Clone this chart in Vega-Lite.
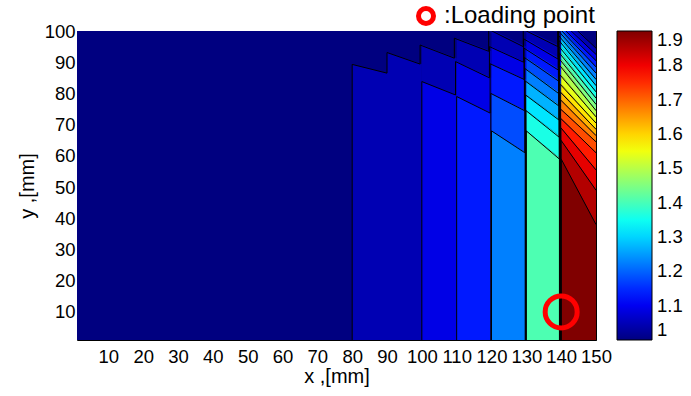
{
  "$schema": "https://vega.github.io/schema/vega-lite/v6.json",
  "width": 519,
  "height": 309,
  "autosize": "none",
  "padding": {"left": 77, "top": 31, "right": 95, "bottom": 56},
  "config": {
    "view": {"stroke": "black", "strokeWidth": 1},
    "font": "Liberation Sans",
    "axis": {
      "grid": false, "domain": false, "tickColor": "black", "labelColor": "black", "titleColor": "black",
      "labelFont": "Liberation Sans", "titleFont": "Liberation Sans", "labelFontSize": 18.5, "titleFontSize": 20,
      "titleFontWeight": "normal", "tickSize": -4, "labelPadding": 11, "labelOverlap": false, "zindex": 1
    }
  },
  "resolve": {"axis": {"x": "independent", "y": "independent"}},
  "layer": [
    {
      "data": {"values": [
        {"id": "bg", "x": 1, "top": 100, "bot": 1, "v": 1}, {"id": "bg", "x": 150, "top": 100, "bot": 1, "v": 1},
        {"id": "c80k1", "x": 80, "top": 89.3, "bot": 1, "v": 1.045}, {"id": "c80k1", "x": 90, "top": 86.5, "bot": 1, "v": 1.045},
        {"id": "c90k1", "x": 90, "top": 93.1, "bot": 1, "v": 1.045}, {"id": "c90k1", "x": 100, "top": 89.4, "bot": 1, "v": 1.045},
        {"id": "c100k1", "x": 100, "top": 95.5, "bot": 83.8, "v": 1.045}, {"id": "c100k1", "x": 110, "top": 91.3, "bot": 79.5, "v": 1.045},
        {"id": "c100k2", "x": 100, "top": 83.8, "bot": 1, "v": 1.09}, {"id": "c100k2", "x": 110, "top": 79.5, "bot": 1, "v": 1.09},
        {"id": "c110k1", "x": 110, "top": 97.7, "bot": 90.2, "v": 1.045}, {"id": "c110k1", "x": 120, "top": 93.5, "bot": 85, "v": 1.045},
        {"id": "c110k2", "x": 110, "top": 90.2, "bot": 79, "v": 1.09}, {"id": "c110k2", "x": 120, "top": 85, "bot": 73.7, "v": 1.09},
        {"id": "c110k3", "x": 110, "top": 79, "bot": 1, "v": 1.135}, {"id": "c110k3", "x": 120, "top": 73.7, "bot": 1, "v": 1.135},
        {"id": "c120k1", "x": 120, "top": 100.5, "bot": 95, "v": 1.045}, {"id": "c120k1", "x": 130, "top": 95, "bot": 90, "v": 1.045},
        {"id": "c120k2", "x": 120, "top": 95, "bot": 89.5, "v": 1.09}, {"id": "c120k2", "x": 130, "top": 90, "bot": 84.5, "v": 1.09},
        {"id": "c120k3", "x": 120, "top": 89.5, "bot": 80, "v": 1.135}, {"id": "c120k3", "x": 130, "top": 84.5, "bot": 74.5, "v": 1.135},
        {"id": "c120k4", "x": 120, "top": 80, "bot": 68, "v": 1.18}, {"id": "c120k4", "x": 130, "top": 74.5, "bot": 61, "v": 1.18},
        {"id": "c120k5", "x": 120, "top": 68, "bot": 1, "v": 1.225}, {"id": "c120k5", "x": 130, "top": 61, "bot": 1, "v": 1.225},
        {"id": "c130k1", "x": 130, "top": 100.5, "bot": 97.5, "v": 1.045}, {"id": "c130k1", "x": 140, "top": 95, "bot": 91, "v": 1.045},
        {"id": "c130k2", "x": 130, "top": 97.5, "bot": 94.5, "v": 1.09}, {"id": "c130k2", "x": 140, "top": 91, "bot": 87.5, "v": 1.09},
        {"id": "c130k3", "x": 130, "top": 94.5, "bot": 91.5, "v": 1.135}, {"id": "c130k3", "x": 140, "top": 87.5, "bot": 84, "v": 1.135},
        {"id": "c130k4", "x": 130, "top": 91.5, "bot": 88, "v": 1.18}, {"id": "c130k4", "x": 140, "top": 84, "bot": 80, "v": 1.18},
        {"id": "c130k5", "x": 130, "top": 88, "bot": 84, "v": 1.225}, {"id": "c130k5", "x": 140, "top": 80, "bot": 76, "v": 1.225},
        {"id": "c130k6", "x": 130, "top": 84, "bot": 79.5, "v": 1.27}, {"id": "c130k6", "x": 140, "top": 76, "bot": 71.5, "v": 1.27},
        {"id": "c130k7", "x": 130, "top": 79.5, "bot": 74.5, "v": 1.315}, {"id": "c130k7", "x": 140, "top": 71.5, "bot": 66, "v": 1.315},
        {"id": "c130k8", "x": 130, "top": 74.5, "bot": 68, "v": 1.36}, {"id": "c130k8", "x": 140, "top": 66, "bot": 59, "v": 1.36},
        {"id": "c130k9", "x": 130, "top": 68, "bot": 1, "v": 1.405}, {"id": "c130k9", "x": 140, "top": 59, "bot": 1, "v": 1.405},
        {"id": "c140k1", "x": 140, "top": 106, "bot": 104, "v": 1.045}, {"id": "c140k1", "x": 150, "top": 94.5, "bot": 92.5, "v": 1.045},
        {"id": "c140k2", "x": 140, "top": 104, "bot": 102.5, "v": 1.09}, {"id": "c140k2", "x": 150, "top": 92.5, "bot": 90.5, "v": 1.09},
        {"id": "c140k3", "x": 140, "top": 102.5, "bot": 101.2, "v": 1.135}, {"id": "c140k3", "x": 150, "top": 90.5, "bot": 88.5, "v": 1.135},
        {"id": "c140k4", "x": 140, "top": 101.2, "bot": 100, "v": 1.18}, {"id": "c140k4", "x": 150, "top": 88.5, "bot": 86.5, "v": 1.18},
        {"id": "c140k5", "x": 140, "top": 100, "bot": 98.5, "v": 1.225}, {"id": "c140k5", "x": 150, "top": 86.5, "bot": 84.5, "v": 1.225},
        {"id": "c140k6", "x": 140, "top": 98.5, "bot": 97, "v": 1.27}, {"id": "c140k6", "x": 150, "top": 84.5, "bot": 82.5, "v": 1.27},
        {"id": "c140k7", "x": 140, "top": 97, "bot": 95, "v": 1.315}, {"id": "c140k7", "x": 150, "top": 82.5, "bot": 80.5, "v": 1.315},
        {"id": "c140k8", "x": 140, "top": 95, "bot": 93, "v": 1.36}, {"id": "c140k8", "x": 150, "top": 80.5, "bot": 78.5, "v": 1.36},
        {"id": "c140k9", "x": 140, "top": 93, "bot": 91, "v": 1.405}, {"id": "c140k9", "x": 150, "top": 78.5, "bot": 76.5, "v": 1.405},
        {"id": "c140k10", "x": 140, "top": 91, "bot": 89, "v": 1.45}, {"id": "c140k10", "x": 150, "top": 76.5, "bot": 74.5, "v": 1.45},
        {"id": "c140k11", "x": 140, "top": 89, "bot": 86, "v": 1.495}, {"id": "c140k11", "x": 150, "top": 74.5, "bot": 72.5, "v": 1.495},
        {"id": "c140k12", "x": 140, "top": 86, "bot": 83, "v": 1.54}, {"id": "c140k12", "x": 150, "top": 72.5, "bot": 70.5, "v": 1.54},
        {"id": "c140k13", "x": 140, "top": 83, "bot": 80.5, "v": 1.585}, {"id": "c140k13", "x": 150, "top": 70.5, "bot": 68.5, "v": 1.585},
        {"id": "c140k14", "x": 140, "top": 80.5, "bot": 78, "v": 1.63}, {"id": "c140k14", "x": 150, "top": 68.5, "bot": 66.5, "v": 1.63},
        {"id": "c140k15", "x": 140, "top": 78, "bot": 75, "v": 1.675}, {"id": "c140k15", "x": 150, "top": 66.5, "bot": 64.5, "v": 1.675},
        {"id": "c140k16", "x": 140, "top": 75, "bot": 72, "v": 1.72}, {"id": "c140k16", "x": 150, "top": 64.5, "bot": 61, "v": 1.72},
        {"id": "c140k17", "x": 140, "top": 72, "bot": 69, "v": 1.765}, {"id": "c140k17", "x": 150, "top": 61, "bot": 55.5, "v": 1.765},
        {"id": "c140k18", "x": 140, "top": 69, "bot": 65, "v": 1.81}, {"id": "c140k18", "x": 150, "top": 55.5, "bot": 49, "v": 1.81},
        {"id": "c140k19", "x": 140, "top": 65, "bot": 59, "v": 1.855}, {"id": "c140k19", "x": 150, "top": 49, "bot": 38, "v": 1.855},
        {"id": "c140k20", "x": 140, "top": 59, "bot": 1, "v": 1.9}, {"id": "c140k20", "x": 150, "top": 38, "bot": 1, "v": 1.9}
      ]},
      "mark": {"type": "area", "clip": true, "interpolate": "linear"},
      "encoding": {
        "x": {"field": "x", "type": "quantitative", "scale": {"domain": [1, 150], "nice": false, "zero": false},
          "axis": {"orient": "bottom", "values": [10, 20, 30, 40, 50, 60, 70, 80, 90, 100, 110, 120, 130, 140, 150], "title": "x ,[mm]", "labelFlush": false, "titlePadding": 1}},
        "y": {"field": "top", "type": "quantitative", "stack": null, "scale": {"domain": [1, 100], "nice": false, "zero": false},
          "axis": {"orient": "left", "values": [10, 20, 30, 40, 50, 60, 70, 80, 90, 100], "title": "y ,[mm]", "labelFlush": false, "labelPadding": 6, "titlePadding": 7}},
        "y2": {"field": "bot"},
        "color": {"field": "v", "type": "quantitative",
          "scale": {"domain": [1, 1.1125, 1.3375, 1.5625, 1.7875, 1.9], "range": ["#000080", "#0000ff", "#00ffff", "#ffff00", "#ff0000", "#800000"], "interpolate": "rgb"},
          "legend": {"orient": "none", "legendX": 540, "legendY": 0, "direction": "vertical", "gradientLength": 309, "gradientThickness": 35,
            "gradientStrokeColor": "black", "gradientStrokeWidth": 1, "title": null, "values": [1, 1.1, 1.2, 1.3, 1.4, 1.5, 1.6, 1.7, 1.8, 1.9],
            "format": "~g", "labelFontSize": 18.5, "labelFont": "Liberation Sans", "labelColor": "black", "labelOffset": 5, "padding": 0}},
        "detail": {"field": "id"}
      }
    },
    {
      "data": {"values": [
        {"m": 1, "o": 0, "x": 80, "y": 1}, {"m": 1, "o": 1, "x": 80, "y": 89.3}, {"m": 1, "o": 2, "x": 90, "y": 86.5}, {"m": 1, "o": 3, "x": 90, "y": 93.1},
        {"m": 1, "o": 4, "x": 99.5, "y": 89.4}, {"m": 1, "o": 5, "x": 99.5, "y": 95.5}, {"m": 1, "o": 6, "x": 109.33, "y": 91.3}, {"m": 1, "o": 7, "x": 109.33, "y": 97.7},
        {"m": 1, "o": 8, "x": 119.2, "y": 93.5}, {"m": 1, "o": 9, "x": 119.2, "y": 100.5}, {"m": 1, "o": 10, "x": 129.11, "y": 95}, {"m": 1, "o": 11, "x": 129.11, "y": 100.5},
        {"m": 1, "o": 12, "x": 139.05, "y": 95}, {"m": 1, "o": 13, "x": 139.05, "y": 106}, {"m": 1, "o": 14, "x": 150, "y": 94.5},
        {"m": 2, "o": 0, "x": 100, "y": 1}, {"m": 2, "o": 1, "x": 100, "y": 83.8}, {"m": 2, "o": 2, "x": 109.67, "y": 79.5}, {"m": 2, "o": 3, "x": 109.67, "y": 90.2},
        {"m": 2, "o": 4, "x": 119.4, "y": 85}, {"m": 2, "o": 5, "x": 119.4, "y": 95}, {"m": 2, "o": 6, "x": 129.22, "y": 90}, {"m": 2, "o": 7, "x": 129.22, "y": 97.5},
        {"m": 2, "o": 8, "x": 139.1, "y": 91}, {"m": 2, "o": 9, "x": 139.1, "y": 104}, {"m": 2, "o": 10, "x": 150, "y": 92.5},
        {"m": 3, "o": 0, "x": 110, "y": 1}, {"m": 3, "o": 1, "x": 110, "y": 79}, {"m": 3, "o": 2, "x": 119.6, "y": 73.7}, {"m": 3, "o": 3, "x": 119.6, "y": 89.5},
        {"m": 3, "o": 4, "x": 129.33, "y": 84.5}, {"m": 3, "o": 5, "x": 129.33, "y": 94.5}, {"m": 3, "o": 6, "x": 139.15, "y": 87.5}, {"m": 3, "o": 7, "x": 139.15, "y": 102.5},
        {"m": 3, "o": 8, "x": 150, "y": 90.5},
        {"m": 4, "o": 0, "x": 119.8, "y": 1}, {"m": 4, "o": 1, "x": 119.8, "y": 80}, {"m": 4, "o": 2, "x": 129.44, "y": 74.5}, {"m": 4, "o": 3, "x": 129.44, "y": 91.5},
        {"m": 4, "o": 4, "x": 139.2, "y": 84}, {"m": 4, "o": 5, "x": 139.2, "y": 101.2}, {"m": 4, "o": 6, "x": 150, "y": 88.5},
        {"m": 5, "o": 0, "x": 120, "y": 1}, {"m": 5, "o": 1, "x": 120, "y": 68}, {"m": 5, "o": 2, "x": 129.56, "y": 61}, {"m": 5, "o": 3, "x": 129.56, "y": 88},
        {"m": 5, "o": 4, "x": 139.25, "y": 80}, {"m": 5, "o": 5, "x": 139.25, "y": 100}, {"m": 5, "o": 6, "x": 150, "y": 86.5},
        {"m": 6, "o": 0, "x": 129.67, "y": 1}, {"m": 6, "o": 1, "x": 129.67, "y": 84}, {"m": 6, "o": 2, "x": 139.3, "y": 76}, {"m": 6, "o": 3, "x": 139.3, "y": 98.5}, {"m": 6, "o": 4, "x": 150, "y": 84.5},
        {"m": 7, "o": 0, "x": 129.78, "y": 1}, {"m": 7, "o": 1, "x": 129.78, "y": 79.5}, {"m": 7, "o": 2, "x": 139.35, "y": 71.5}, {"m": 7, "o": 3, "x": 139.35, "y": 97}, {"m": 7, "o": 4, "x": 150, "y": 82.5},
        {"m": 8, "o": 0, "x": 129.89, "y": 1}, {"m": 8, "o": 1, "x": 129.89, "y": 74.5}, {"m": 8, "o": 2, "x": 139.4, "y": 66}, {"m": 8, "o": 3, "x": 139.4, "y": 95}, {"m": 8, "o": 4, "x": 150, "y": 80.5},
        {"m": 9, "o": 0, "x": 130, "y": 1}, {"m": 9, "o": 1, "x": 130, "y": 68}, {"m": 9, "o": 2, "x": 139.45, "y": 59}, {"m": 9, "o": 3, "x": 139.45, "y": 93}, {"m": 9, "o": 4, "x": 150, "y": 78.5},
        {"m": 10, "o": 0, "x": 139.5, "y": 1}, {"m": 10, "o": 1, "x": 139.5, "y": 91}, {"m": 10, "o": 2, "x": 150, "y": 76.5},
        {"m": 11, "o": 0, "x": 139.55, "y": 1}, {"m": 11, "o": 1, "x": 139.55, "y": 89}, {"m": 11, "o": 2, "x": 150, "y": 74.5},
        {"m": 12, "o": 0, "x": 139.6, "y": 1}, {"m": 12, "o": 1, "x": 139.6, "y": 86}, {"m": 12, "o": 2, "x": 150, "y": 72.5},
        {"m": 13, "o": 0, "x": 139.65, "y": 1}, {"m": 13, "o": 1, "x": 139.65, "y": 83}, {"m": 13, "o": 2, "x": 150, "y": 70.5},
        {"m": 14, "o": 0, "x": 139.7, "y": 1}, {"m": 14, "o": 1, "x": 139.7, "y": 80.5}, {"m": 14, "o": 2, "x": 150, "y": 68.5},
        {"m": 15, "o": 0, "x": 139.75, "y": 1}, {"m": 15, "o": 1, "x": 139.75, "y": 78}, {"m": 15, "o": 2, "x": 150, "y": 66.5},
        {"m": 16, "o": 0, "x": 139.8, "y": 1}, {"m": 16, "o": 1, "x": 139.8, "y": 75}, {"m": 16, "o": 2, "x": 150, "y": 64.5},
        {"m": 17, "o": 0, "x": 139.85, "y": 1}, {"m": 17, "o": 1, "x": 139.85, "y": 72}, {"m": 17, "o": 2, "x": 150, "y": 61},
        {"m": 18, "o": 0, "x": 139.9, "y": 1}, {"m": 18, "o": 1, "x": 139.9, "y": 69}, {"m": 18, "o": 2, "x": 150, "y": 55.5},
        {"m": 19, "o": 0, "x": 139.95, "y": 1}, {"m": 19, "o": 1, "x": 139.95, "y": 65}, {"m": 19, "o": 2, "x": 150, "y": 49},
        {"m": 20, "o": 0, "x": 140, "y": 1}, {"m": 20, "o": 1, "x": 140, "y": 59}, {"m": 20, "o": 2, "x": 150, "y": 38}
      ]},
      "mark": {"type": "line", "clip": true, "color": "black", "strokeWidth": 1},
      "encoding": {
        "x": {"field": "x", "type": "quantitative",
          "axis": {"orient": "top", "values": [10, 20, 30, 40, 50, 60, 70, 80, 90, 100, 110, 120, 130, 140, 150], "labels": false, "title": null}},
        "y": {"field": "y", "type": "quantitative",
          "axis": {"orient": "right", "values": [10, 20, 30, 40, 50, 60, 70, 80, 90, 100], "labels": false, "title": null}},
        "detail": {"field": "m"},
        "order": {"field": "o"}
      }
    },
    {
      "data": {"values": [{"x": 140, "y": 10, "name": ":Loading point"}]},
      "mark": {"type": "point", "filled": false, "stroke": "red", "strokeWidth": 5, "size": 1024, "opacity": 1},
      "encoding": {
        "x": {"field": "x", "type": "quantitative", "axis": null},
        "y": {"field": "y", "type": "quantitative", "axis": null},
        "shape": {"field": "name", "type": "nominal", "scale": {"range": ["circle"]},
          "legend": {"orient": "none", "legendX": 337, "legendY": -27, "title": null, "symbolType": "circle",
            "symbolStrokeColor": "red", "symbolStrokeWidth": 5, "symbolSize": 225, "symbolFillColor": "transparent",
            "labelFontSize": 24, "labelFont": "Liberation Sans", "labelColor": "black", "labelOffset": 6, "padding": 0}}
      }
    }
  ]
}
